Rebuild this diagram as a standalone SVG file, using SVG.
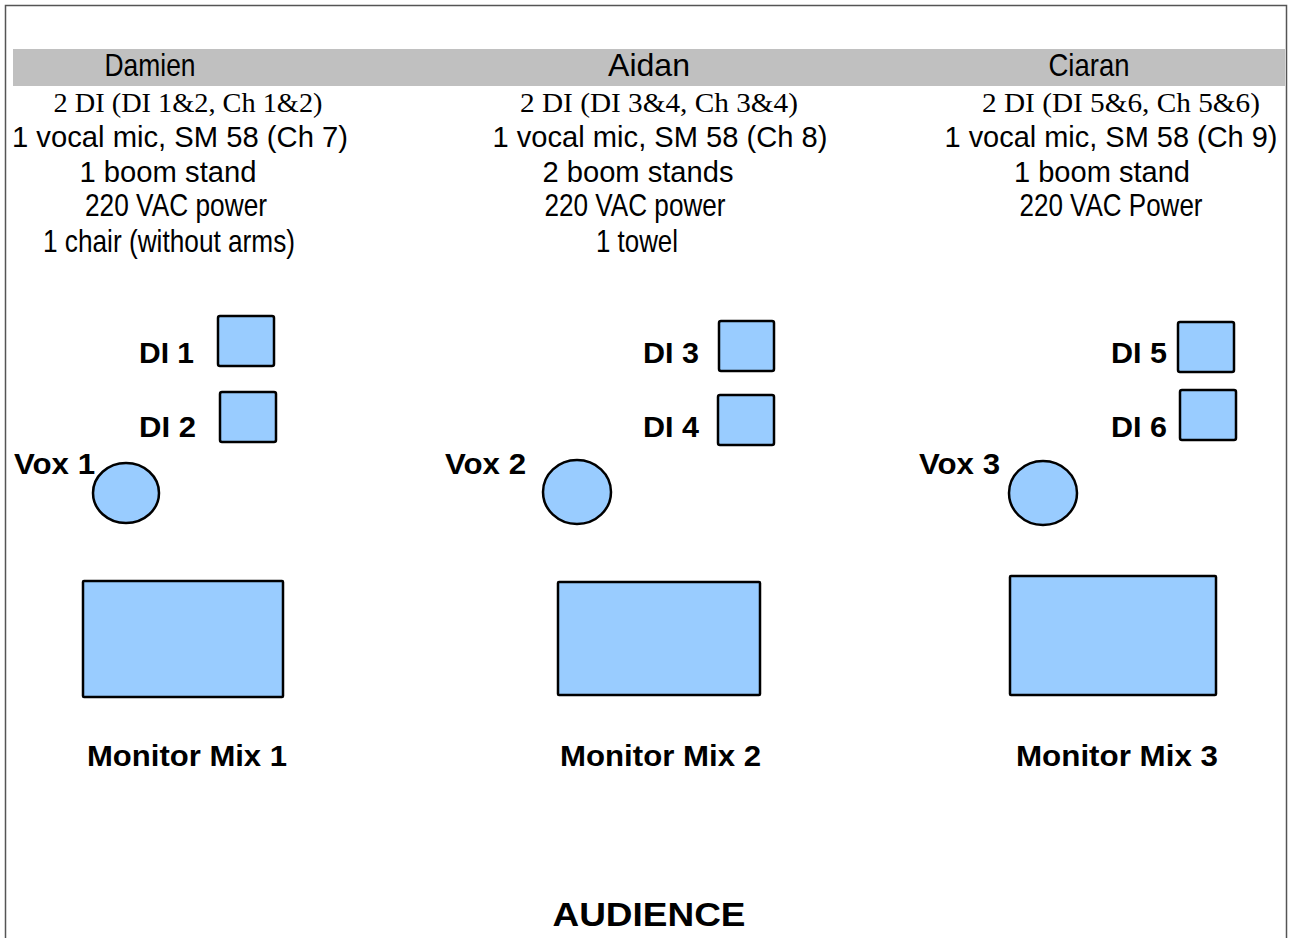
<svg xmlns="http://www.w3.org/2000/svg" width="1292" height="938" viewBox="0 0 1292 938">
<style>
.sans{font-family:"Liberation Sans",Arial,sans-serif;fill:#000}
.serif{font-family:"Liberation Serif","Times New Roman",serif;fill:#000;font-size:27px}
.reg{font-size:29px}
.nar{font-size:32px}
.bold{font-weight:bold;font-size:29px}
.mon{font-weight:bold;font-size:29px}
.c{text-anchor:middle}
.box{fill:#99ccff;stroke:#000;stroke-width:2.5}
</style>
<rect x="5.5" y="5.5" width="1281" height="1000" fill="#fff" stroke="#555" stroke-width="1.5"/>
<rect x="13" y="49" width="1272" height="37" fill="#c0c0c0"/>

<g id="damien-info">
<text class="sans nar c" x="150" y="76" textLength="91" lengthAdjust="spacingAndGlyphs">Damien</text>
<text class="serif c" x="188" y="112" textLength="269" lengthAdjust="spacingAndGlyphs">2 DI (DI 1&amp;2, Ch 1&amp;2)</text>
<text class="sans reg c" x="180" y="147" textLength="336" lengthAdjust="spacingAndGlyphs">1 vocal mic, SM 58 (Ch 7)</text>
<text class="sans reg c" x="168" y="182" textLength="177" lengthAdjust="spacingAndGlyphs">1 boom stand</text>
<text class="sans nar c" x="176" y="216" textLength="182" lengthAdjust="spacingAndGlyphs">220 VAC power</text>
<text class="sans nar c" x="169" y="252" textLength="252" lengthAdjust="spacingAndGlyphs">1 chair (without arms)</text>
</g>
<g id="aidan-info">
<text class="sans nar c" x="649" y="76" textLength="82" lengthAdjust="spacingAndGlyphs">Aidan</text>
<text class="serif c" x="659" y="112" textLength="278" lengthAdjust="spacingAndGlyphs">2 DI (DI 3&amp;4, Ch 3&amp;4)</text>
<text class="sans reg c" x="660" y="147" textLength="335" lengthAdjust="spacingAndGlyphs">1 vocal mic, SM 58 (Ch 8)</text>
<text class="sans reg c" x="638" y="182" textLength="191" lengthAdjust="spacingAndGlyphs">2 boom stands</text>
<text class="sans nar c" x="635" y="216" textLength="181" lengthAdjust="spacingAndGlyphs">220 VAC power</text>
<text class="sans nar c" x="637" y="252" textLength="82" lengthAdjust="spacingAndGlyphs">1 towel</text>
</g>
<g id="ciaran-info">
<text class="sans nar c" x="1089" y="76" textLength="81" lengthAdjust="spacingAndGlyphs">Ciaran</text>
<text class="serif c" x="1121" y="112" textLength="278" lengthAdjust="spacingAndGlyphs">2 DI (DI 5&amp;6, Ch 5&amp;6)</text>
<text class="sans reg c" x="1111" y="147" textLength="333" lengthAdjust="spacingAndGlyphs">1 vocal mic, SM 58 (Ch 9)</text>
<text class="sans reg c" x="1102" y="182" textLength="176" lengthAdjust="spacingAndGlyphs">1 boom stand</text>
<text class="sans nar c" x="1111" y="216" textLength="183" lengthAdjust="spacingAndGlyphs">220 VAC Power</text>
</g>

<g id="di1"><rect class="box" x="218" y="316" width="56" height="50" rx="2"/><text class="sans bold" x="139" y="363" textLength="55" lengthAdjust="spacingAndGlyphs">DI 1</text></g>
<g id="di2"><rect class="box" x="220" y="392" width="56" height="50" rx="2"/><text class="sans bold" x="139" y="437" textLength="57" lengthAdjust="spacingAndGlyphs">DI 2</text></g>
<g id="di3"><rect class="box" x="719" y="321" width="55" height="50" rx="2"/><text class="sans bold" x="643" y="363" textLength="56" lengthAdjust="spacingAndGlyphs">DI 3</text></g>
<g id="di4"><rect class="box" x="718" y="395" width="56" height="50" rx="2"/><text class="sans bold" x="643" y="437" textLength="56" lengthAdjust="spacingAndGlyphs">DI 4</text></g>
<g id="di5"><rect class="box" x="1178" y="322" width="56" height="50" rx="2"/><text class="sans bold" x="1111" y="363" textLength="56" lengthAdjust="spacingAndGlyphs">DI 5</text></g>
<g id="di6"><rect class="box" x="1180" y="390" width="56" height="50" rx="2"/><text class="sans bold" x="1111" y="437" textLength="56" lengthAdjust="spacingAndGlyphs">DI 6</text></g>

<g id="vox1"><ellipse class="box" cx="126" cy="493" rx="33" ry="30" stroke-width="2"/><text class="sans bold" x="14" y="474" textLength="81" lengthAdjust="spacingAndGlyphs">Vox 1</text></g>
<g id="vox2"><ellipse class="box" cx="577" cy="492" rx="34" ry="32" stroke-width="2"/><text class="sans bold" x="445" y="474" textLength="81" lengthAdjust="spacingAndGlyphs">Vox 2</text></g>
<g id="vox3"><ellipse class="box" cx="1043" cy="493" rx="34" ry="32" stroke-width="2"/><text class="sans bold" x="919" y="474" textLength="81" lengthAdjust="spacingAndGlyphs">Vox 3</text></g>

<g id="monitor1"><rect class="box" x="83" y="581" width="200" height="116" rx="1"/><text class="sans mon" x="87" y="766" textLength="200" lengthAdjust="spacingAndGlyphs">Monitor Mix 1</text></g>
<g id="monitor2"><rect class="box" x="558" y="582" width="202" height="113" rx="1"/><text class="sans mon" x="560" y="766" textLength="201" lengthAdjust="spacingAndGlyphs">Monitor Mix 2</text></g>
<g id="monitor3"><rect class="box" x="1010" y="576" width="206" height="119" rx="1"/><text class="sans mon" x="1016" y="766" textLength="202" lengthAdjust="spacingAndGlyphs">Monitor Mix 3</text></g>

<g id="audience"><text class="sans c" x="649" y="926" font-weight="bold" font-size="34" textLength="193" lengthAdjust="spacingAndGlyphs">AUDIENCE</text></g>
<g id="connectors"></g>
</svg>
